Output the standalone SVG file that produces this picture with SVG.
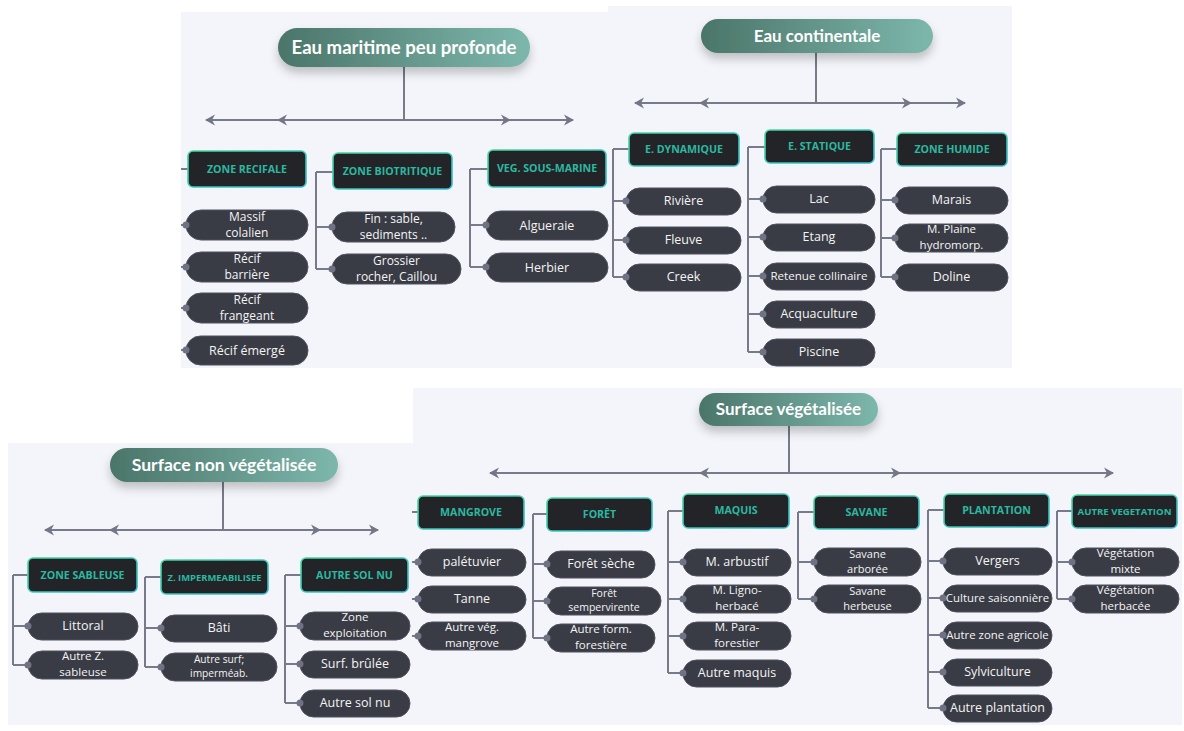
<svg xmlns="http://www.w3.org/2000/svg" xmlns:xlink="http://www.w3.org/1999/xlink" width="1184" height="731" viewBox="0 0 1184 731">
<defs>
<linearGradient id="hg" x1="0" y1="0" x2="1" y2="0"><stop offset="0" stop-color="#4b7569"/><stop offset="1" stop-color="#7db7ac"/></linearGradient>
<linearGradient id="cg" x1="0" y1="0" x2="1" y2="1"><stop offset="0" stop-color="#45d9a0"/><stop offset="1" stop-color="#33b9cf"/></linearGradient>
<filter id="sh" x="-20%" y="-40%" width="140%" height="200%"><feDropShadow dx="0" dy="6" stdDeviation="5" flood-color="#000" flood-opacity="0.22"/></filter>
<path id="al" d="M0 0 l10 -5.5 l-3 5.5 l3 5.5z" fill="#727686"/>
<path id="ar" d="M0 0 l-10 -5.5 l3 5.5 l-3 5.5z" fill="#727686"/>
</defs>
<style>
.panel{fill:#f3f5fa}
.hdr{fill:url(#hg);filter:url(#sh)}
.ht{font-family:Lato,"Liberation Sans",sans-serif;font-weight:700;font-size:17px;fill:#ffffff;text-anchor:middle}
.cat{fill:#222428;stroke:url(#cg);stroke-width:1.6}
.ct{font-family:"Open Sans","Liberation Sans",sans-serif;font-weight:700;font-size:10.6px;fill:#2db8a0;text-anchor:middle}
.leaf{fill:#393b45;stroke:#50535f;stroke-width:1}
.lt{font-family:"Open Sans","Liberation Sans",sans-serif;font-size:12.5px;fill:#f4f4f4;text-anchor:middle}
.l2{font-family:"Open Sans","Liberation Sans",sans-serif;font-size:11px;fill:#f4f4f4;text-anchor:middle}
.la{font-size:12px}
.lb{font-size:11.5px}
.ln{stroke:#767a89;stroke-width:2;fill:none}
.dot{fill:#6e7282}
</style>
<rect width="1184" height="731" fill="#ffffff"/>
<rect class="panel" x="181" y="12" width="427" height="356"/>
<rect class="panel" x="608" y="6" width="404" height="362"/>
<rect class="panel" x="8" y="443" width="405" height="282"/>
<rect class="panel" x="413" y="388" width="769" height="337"/>

<g id="connectors">
<path class="ln" d="M404 67V120M206 120H573"/>
<use xlink:href="#al" x="205" y="120"/><use xlink:href="#al" x="277" y="120"/><use xlink:href="#ar" x="511" y="120"/><use xlink:href="#ar" x="574" y="120"/>
<path class="ln" d="M181 169H188M181 225H186M181 267H186M181 308H186M181 350H186"/>
<path class="ln" d="M316 172V269M316 172H333M316 227H332M316 269H332"/>
<path class="ln" d="M470 169V267M470 169H488M470 225H486M470 267H486"/>
<path class="ln" d="M816 53V103M635 103H965"/>
<use xlink:href="#al" x="634" y="103"/><use xlink:href="#al" x="699" y="103"/><use xlink:href="#ar" x="912" y="103"/><use xlink:href="#ar" x="966" y="103"/>
<path class="ln" d="M613 149V277M613 149H629M613 201H626M613 240H626M613 277H626"/>
<path class="ln" d="M748 147V352M748 147H765M748 199H763M748 237H763M748 276H763M748 314H763M748 352H763"/>
<path class="ln" d="M881 149V277M881 149H897M881 200H895M881 238H895M881 277H895"/>
<path class="ln" d="M223 482V530M45 530H378"/>
<use xlink:href="#al" x="44" y="530"/><use xlink:href="#al" x="109" y="530"/><use xlink:href="#ar" x="321" y="530"/><use xlink:href="#ar" x="379" y="530"/>
<path class="ln" d="M13 575V665M13 575H28M13 626H28M13 665H28"/>
<path class="ln" d="M145 577V667M145 577H161M145 628H161M145 667H161"/>
<path class="ln" d="M285 575V703M285 575H301M285 626H300M285 664H300M285 703H300"/>
<path class="ln" d="M789 426V473M490 473H1113"/>
<use xlink:href="#al" x="489" y="473"/><use xlink:href="#al" x="699" y="473"/><use xlink:href="#ar" x="901" y="473"/><use xlink:href="#ar" x="1114" y="473"/>
<path class="ln" d="M412 512H418M412 562H418M412 599H418M412 636H418"/>
<path class="ln" d="M533 514V638M533 514H547M533 564H547M533 601H547M533 638H547"/>
<path class="ln" d="M668 511V673M668 511H683M668 562H683M668 599H683M668 636H683M668 673H683"/>
<path class="ln" d="M798 512V599M798 512H814M798 562H814M798 599H814"/>
<path class="ln" d="M928 510V708M928 510H944M928 561H943M928 598H943M928 635H943M928 672H943M928 708H943"/>
<path class="ln" d="M1057 511V599M1057 511H1072M1057 562H1072M1057 599H1072"/>
</g>

<g id="eau-maritime"><rect class="hdr" x="278" y="28" width="252" height="39" rx="19.5"/><text class="ht" x="404" y="54" style="font-size:18.6px">Eau maritime peu profonde</text></g>
<g id="zone-recifale"><rect class="cat" x="188" y="151" width="118" height="36" rx="5"/><text class="ct" x="247" y="173">ZONE RECIFALE</text></g>
<g id="zone-biotritique"><rect class="cat" x="333" y="153" width="119" height="36" rx="5"/><text class="ct" x="392.5" y="175">ZONE BIOTRITIQUE</text></g>
<g id="veg-sous-marine"><rect class="cat" x="488" y="150" width="118" height="37" rx="5"/><text class="ct" x="547" y="172">VEG. SOUS-MARINE</text></g>
<g id="massif"><rect class="leaf" x="186" y="210" width="122" height="30" rx="15"/><circle class="dot" cx="186" cy="225" r="3.5"/><text class="l2 la" x="247" y="220.5">Massif</text><text class="l2 la" x="247" y="236.9">colalien</text></g>
<g id="recif-barriere"><rect class="leaf" x="186" y="252" width="122" height="30" rx="15"/><circle class="dot" cx="186" cy="267" r="3.5"/><text class="l2 la" x="247" y="262.5">Récif</text><text class="l2 la" x="247" y="278.9">barrière</text></g>
<g id="recif-frangeant"><rect class="leaf" x="186" y="293" width="122" height="30" rx="15"/><circle class="dot" cx="186" cy="308" r="3.5"/><text class="l2 la" x="247" y="303.5">Récif</text><text class="l2 la" x="247" y="319.9">frangeant</text></g>
<g id="recif-emerge"><rect class="leaf" x="186" y="336" width="122" height="29" rx="14.5"/><circle class="dot" cx="186" cy="350" r="3.5"/><text class="lt" x="247" y="354.5">Récif émergé</text></g>
<g id="fin"><rect class="leaf" x="332" y="212" width="123" height="30" rx="15"/><circle class="dot" cx="332" cy="227" r="3.5"/><text class="l2 la" x="393.5" y="222.5">Fin : sable,</text><text class="l2 la" x="393.5" y="238.9">sediments ..</text></g>
<g id="grossier"><rect class="leaf" x="332" y="254" width="129" height="30" rx="15"/><circle class="dot" cx="332" cy="269" r="3.5"/><text class="l2 la" x="396.5" y="264.5">Grossier</text><text class="l2 la" x="396.5" y="280.9">rocher, Caillou</text></g>
<g id="algueraie"><rect class="leaf" x="486" y="211" width="122" height="29" rx="14.5"/><circle class="dot" cx="486" cy="225" r="3.5"/><text class="lt" x="547" y="229.5">Algueraie</text></g>
<g id="herbier"><rect class="leaf" x="486" y="253" width="122" height="29" rx="14.5"/><circle class="dot" cx="486" cy="267" r="3.5"/><text class="lt" x="547" y="271.5">Herbier</text></g>

<g id="eau-continentale"><rect class="hdr" x="701" y="19" width="232" height="34" rx="17"/><text class="ht" x="817" y="42">Eau continentale</text></g>
<g id="e-dynamique"><rect class="cat" x="629" y="133" width="110" height="33" rx="5"/><text class="ct" x="684" y="153">E. DYNAMIQUE</text></g>
<g id="e-statique"><rect class="cat" x="765" y="130" width="109" height="33" rx="5"/><text class="ct" x="819.5" y="150">E. STATIQUE</text></g>
<g id="zone-humide"><rect class="cat" x="897" y="133" width="110" height="33" rx="5"/><text class="ct" x="952" y="153">ZONE HUMIDE</text></g>
<g id="riviere"><rect class="leaf" x="626" y="188" width="115" height="27" rx="13.5"/><circle class="dot" cx="626" cy="201" r="3.5"/><text class="lt" x="683.5" y="205">Rivière</text></g>
<g id="fleuve"><rect class="leaf" x="626" y="227" width="115" height="27" rx="13.5"/><circle class="dot" cx="626" cy="240" r="3.5"/><text class="lt" x="683.5" y="244">Fleuve</text></g>
<g id="creek"><rect class="leaf" x="626" y="264" width="115" height="27" rx="13.5"/><circle class="dot" cx="626" cy="277" r="3.5"/><text class="lt" x="683.5" y="281">Creek</text></g>
<g id="lac"><rect class="leaf" x="763" y="186" width="112" height="27" rx="13.5"/><circle class="dot" cx="763" cy="199" r="3.5"/><text class="lt" x="819" y="203">Lac</text></g>
<g id="etang"><rect class="leaf" x="763" y="224" width="112" height="27" rx="13.5"/><circle class="dot" cx="763" cy="237" r="3.5"/><text class="lt" x="819" y="241">Etang</text></g>
<g id="retenue"><rect class="leaf" x="763" y="263" width="112" height="27" rx="13.5"/><circle class="dot" cx="763" cy="276" r="3.5"/><text class="lt" x="819" y="280" style="font-size:11.6px">Retenue collinaire</text></g>
<g id="acquaculture"><rect class="leaf" x="763" y="301" width="112" height="27" rx="13.5"/><circle class="dot" cx="763" cy="314" r="3.5"/><text class="lt" x="819" y="318">Acquaculture</text></g>
<g id="piscine"><rect class="leaf" x="763" y="339" width="112" height="27" rx="13.5"/><circle class="dot" cx="763" cy="352" r="3.5"/><text class="lt" x="819" y="356">Piscine</text></g>
<g id="marais"><rect class="leaf" x="895" y="187" width="113" height="27" rx="13.5"/><circle class="dot" cx="895" cy="200" r="3.5"/><text class="lt" x="951.5" y="204">Marais</text></g>
<g id="plaine"><rect class="leaf" x="895" y="224" width="113" height="28" rx="14"/><circle class="dot" cx="895" cy="238" r="3.5"/><text class="l2 lb" x="951.5" y="233">M. Plaine</text><text class="l2 lb" x="951.5" y="248.7">hydromorp.</text></g>
<g id="doline"><rect class="leaf" x="895" y="264" width="113" height="27" rx="13.5"/><circle class="dot" cx="895" cy="277" r="3.5"/><text class="lt" x="951.5" y="281">Doline</text></g>

<g id="surface-non-veg"><rect class="hdr" x="110" y="448" width="228" height="34" rx="17"/><text class="ht" x="224" y="471" style="font-size:17.6px">Surface non végétalisée</text></g>
<g id="zone-sableuse"><rect class="cat" x="28" y="558" width="109" height="34" rx="5"/><text class="ct" x="82.5" y="579">ZONE SABLEUSE</text></g>
<g id="z-impermeabilisee"><rect class="cat" x="161" y="560" width="107" height="34" rx="5"/><text class="ct" x="214.5" y="581" style="font-size:9.4px">Z. IMPERMEABILISEE</text></g>
<g id="autre-sol-nu-cat"><rect class="cat" x="301" y="558" width="107" height="34" rx="5"/><text class="ct" x="354.5" y="579">AUTRE SOL NU</text></g>
<g id="littoral"><rect class="leaf" x="28" y="613" width="110" height="27" rx="13.5"/><circle class="dot" cx="28" cy="626" r="3.5"/><text class="lt" x="83" y="630">Littoral</text></g>
<g id="autre-z-sableuse"><rect class="leaf" x="28" y="651" width="110" height="28" rx="14"/><circle class="dot" cx="28" cy="665" r="3.5"/><text class="l2 lb" x="83" y="660">Autre Z.</text><text class="l2 lb" x="83" y="675.7">sableuse</text></g>
<g id="bati"><rect class="leaf" x="161" y="615" width="116" height="27" rx="13.5"/><circle class="dot" cx="161" cy="628" r="3.5"/><text class="lt" x="219" y="632">Bâti</text></g>
<g id="autre-surf"><rect class="leaf" x="161" y="653" width="116" height="28" rx="14"/><circle class="dot" cx="161" cy="667" r="3.5"/><text class="l2" x="219" y="663" style="font-size:10.2px">Autre surf;</text><text class="l2" x="219" y="677.2" style="font-size:10.2px">imperméab.</text></g>
<g id="zone-exploitation"><rect class="leaf" x="300" y="612" width="110" height="28" rx="14"/><circle class="dot" cx="300" cy="626" r="3.5"/><text class="l2 lb" x="355" y="621">Zone</text><text class="l2 lb" x="355" y="636.7">exploitation</text></g>
<g id="surf-brulee"><rect class="leaf" x="300" y="651" width="110" height="27" rx="13.5"/><circle class="dot" cx="300" cy="664" r="3.5"/><text class="lt" x="355" y="668">Surf. brûlée</text></g>
<g id="autre-sol-nu"><rect class="leaf" x="300" y="690" width="110" height="27" rx="13.5"/><circle class="dot" cx="300" cy="703" r="3.5"/><text class="lt" x="355" y="707">Autre sol nu</text></g>

<g id="surface-veg"><rect class="hdr" x="699" y="393" width="179" height="33" rx="16.5"/><text class="ht" x="788.5" y="415">Surface végétalisée</text></g>
<g id="mangrove"><rect class="cat" x="418" y="496" width="106" height="33" rx="5"/><text class="ct" x="471" y="516">MANGROVE</text></g>
<g id="foret"><rect class="cat" x="547" y="498" width="105" height="33" rx="5"/><text class="ct" x="599.5" y="518">FORÊT</text></g>
<g id="maquis"><rect class="cat" x="683" y="494" width="106" height="34" rx="5"/><text class="ct" x="736" y="514">MAQUIS</text></g>
<g id="savane"><rect class="cat" x="814" y="496" width="105" height="33" rx="5"/><text class="ct" x="866.5" y="516">SAVANE</text></g>
<g id="plantation"><rect class="cat" x="944" y="494" width="105" height="33" rx="5"/><text class="ct" x="996.5" y="514">PLANTATION</text></g>
<g id="autre-vegetation"><rect class="cat" x="1072" y="495" width="105" height="33" rx="5"/><text class="ct" x="1124.5" y="515" style="font-size:9.6px">AUTRE VEGETATION</text></g>
<g id="paletuvier"><rect class="leaf" x="418" y="549" width="108" height="27" rx="13.5"/><circle class="dot" cx="418" cy="562" r="3.5"/><text class="lt" x="472" y="566">palétuvier</text></g>
<g id="tanne"><rect class="leaf" x="418" y="586" width="108" height="27" rx="13.5"/><circle class="dot" cx="418" cy="599" r="3.5"/><text class="lt" x="472" y="603">Tanne</text></g>
<g id="autre-veg-mangrove"><rect class="leaf" x="418" y="622" width="108" height="28" rx="14"/><circle class="dot" cx="418" cy="636" r="3.5"/><text class="l2 lb" x="472" y="631">Autre vég.</text><text class="l2 lb" x="472" y="646.7">mangrove</text></g>
<g id="foret-seche"><rect class="leaf" x="547" y="551" width="108" height="27" rx="13.5"/><circle class="dot" cx="547" cy="564" r="3.5"/><text class="lt" x="601" y="568">Forêt sèche</text></g>
<g id="foret-semp"><rect class="leaf" x="547" y="587" width="114" height="28" rx="14"/><circle class="dot" cx="547" cy="601" r="3.5"/><text class="l2" x="604" y="596.8" style="font-size:10.5px">Forêt</text><text class="l2" x="604" y="611.4" style="font-size:10.5px">sempervirente</text></g>
<g id="autre-form"><rect class="leaf" x="547" y="624" width="108" height="28" rx="14"/><circle class="dot" cx="547" cy="638" r="3.5"/><text class="l2 lb" x="601" y="633">Autre form.</text><text class="l2 lb" x="601" y="648.7">forestière</text></g>
<g id="m-arbustif"><rect class="leaf" x="683" y="549" width="108" height="27" rx="13.5"/><circle class="dot" cx="683" cy="562" r="3.5"/><text class="lt" x="737" y="566">M. arbustif</text></g>
<g id="m-ligno"><rect class="leaf" x="683" y="585" width="108" height="28" rx="14"/><circle class="dot" cx="683" cy="599" r="3.5"/><text class="l2 lb" x="737" y="594">M. Ligno-</text><text class="l2 lb" x="737" y="609.7">herbacé</text></g>
<g id="m-para"><rect class="leaf" x="683" y="622" width="108" height="28" rx="14"/><circle class="dot" cx="683" cy="636" r="3.5"/><text class="l2 lb" x="737" y="631">M. Para-</text><text class="l2 lb" x="737" y="646.7">forestier</text></g>
<g id="autre-maquis"><rect class="leaf" x="683" y="660" width="108" height="27" rx="13.5"/><circle class="dot" cx="683" cy="673" r="3.5"/><text class="lt" x="737" y="677">Autre maquis</text></g>
<g id="savane-arboree"><rect class="leaf" x="814" y="548" width="107" height="28" rx="14"/><circle class="dot" cx="814" cy="562" r="3.5"/><text class="l2" x="867.5" y="557.5">Savane</text><text class="l2" x="867.5" y="572.8">arborée</text></g>
<g id="savane-herbeuse"><rect class="leaf" x="814" y="585" width="107" height="28" rx="14"/><circle class="dot" cx="814" cy="599" r="3.5"/><text class="l2" x="867.5" y="594.5">Savane</text><text class="l2" x="867.5" y="609.8">herbeuse</text></g>
<g id="vergers"><rect class="leaf" x="943" y="548" width="109" height="27" rx="13.5"/><circle class="dot" cx="943" cy="561" r="3.5"/><text class="lt" x="997.5" y="565">Vergers</text></g>
<g id="culture"><rect class="leaf" x="943" y="585" width="109" height="27" rx="13.5"/><circle class="dot" cx="943" cy="598" r="3.5"/><text class="lt" x="997.5" y="602" style="font-size:11.4px">Culture saisonnière</text></g>
<g id="autre-zone-agricole"><rect class="leaf" x="943" y="622" width="109" height="27" rx="13.5"/><circle class="dot" cx="943" cy="635" r="3.5"/><text class="lt" x="997.5" y="639" style="font-size:11.4px">Autre zone agricole</text></g>
<g id="sylviculture"><rect class="leaf" x="943" y="659" width="109" height="27" rx="13.5"/><circle class="dot" cx="943" cy="672" r="3.5"/><text class="lt" x="997.5" y="676">Sylviculture</text></g>
<g id="autre-plantation"><rect class="leaf" x="943" y="695" width="109" height="27" rx="13.5"/><circle class="dot" cx="943" cy="708" r="3.5"/><text class="lt" x="997.5" y="712">Autre plantation</text></g>
<g id="veg-mixte"><rect class="leaf" x="1072" y="548" width="107" height="28" rx="14"/><circle class="dot" cx="1072" cy="562" r="3.5"/><text class="l2 lb" x="1125.5" y="557">Végétation</text><text class="l2 lb" x="1125.5" y="572.7">mixte</text></g>
<g id="veg-herbacee"><rect class="leaf" x="1072" y="585" width="107" height="28" rx="14"/><circle class="dot" cx="1072" cy="599" r="3.5"/><text class="l2 lb" x="1125.5" y="594">Végétation</text><text class="l2 lb" x="1125.5" y="609.7">herbacée</text></g>
</svg>
